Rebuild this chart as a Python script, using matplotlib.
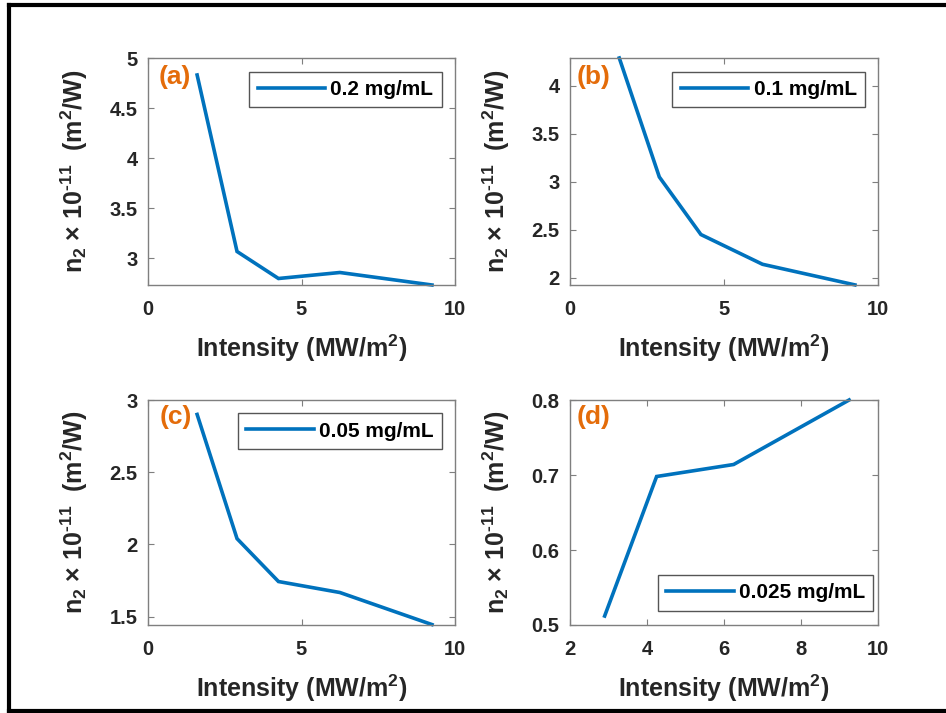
import matplotlib
matplotlib.use("Agg")
import matplotlib.pyplot as plt
from matplotlib.lines import Line2D

plt.rcParams['font.family'] = ['Liberation Sans', 'DejaVu Sans']
plt.rcParams['font.weight'] = 'bold'
plt.rcParams['mathtext.fontset'] = 'custom'
plt.rcParams['mathtext.rm'] = 'Liberation Sans:bold'
plt.rcParams['mathtext.it'] = 'Liberation Sans:bold'
plt.rcParams['mathtext.bf'] = 'Liberation Sans:bold'
plt.rcParams['mathtext.default'] = 'rm'

# ---- data ----
intensity = [1.6, 2.9, 4.25, 6.25, 9.25]
intensity_d = [2.9, 4.25, 6.25, 9.25]
n2_a = [4.83, 3.065, 2.795, 2.855, 2.73]
n2_b = [4.29, 3.05, 2.45, 2.14, 1.925]
n2_c = [2.90, 2.04, 1.743, 1.667, 1.445]
n2_d = [0.512, 0.698, 0.714, 0.80]

labels = ['0.2 mg/mL', '0.1 mg/mL', '0.05 mg/mL', '0.025 mg/mL']
panel_tags = ['(a)', '(b)', '(c)', '(d)']
xticks_abc = [0, 5, 10]
xticks_d = [2, 4, 6, 8, 10]
yticks_a = [3, 3.5, 4, 4.5, 5]
yticks_b = [2, 2.5, 3, 3.5, 4]
yticks_c = [1.5, 2, 2.5, 3]
yticks_d = [0.5, 0.6, 0.7, 0.8]
ytl_a = ['3', '3.5', '4', '4.5', '5']
ytl_b = ['2', '2.5', '3', '3.5', '4']
ytl_c = ['1.5', '2', '2.5', '3']
ytl_d = ['0.5', '0.6', '0.7', '0.8']

W, H = 946, 713
fig = plt.figure(figsize=(W / 100, H / 100), dpi=100)

def px_axes(l, r, t, b):
    return [l / W, 1 - b / H, (r - l) / W, (b - t) / H]

blue = '#0072BD'
orange = '#E46C0A'
grey = '#262626'
edge = '#7f7f7f'

specs = [
    dict(pos=px_axes(148, 455, 58, 285), x=intensity, y=n2_a, xlim=(0, 10), ylim=(2.73, 5),
         xt=xticks_abc, yt=yticks_a, ytl=ytl_a, loc='upper right', anchor=(0.957, 0.940),
         tag=(0.033, 0.916)),
    dict(pos=px_axes(570, 878, 58, 285), x=intensity, y=n2_b, xlim=(0, 10), ylim=(1.924, 4.29),
         xt=xticks_abc, yt=yticks_b, ytl=ytl_b, loc='upper right', anchor=(0.958, 0.940),
         tag=(0.02, 0.916)),
    dict(pos=px_axes(148, 455, 400, 625), x=intensity, y=n2_c, xlim=(0, 10), ylim=(1.442, 3.0),
         xt=xticks_abc, yt=yticks_c, ytl=ytl_c, loc='upper right', anchor=(0.957, 0.941),
         tag=(0.039, 0.926)),
    dict(pos=px_axes(570, 878, 400, 625), x=intensity_d, y=n2_d, xlim=(2, 10), ylim=(0.5, 0.8),
         xt=xticks_d, yt=yticks_d, ytl=ytl_d, loc='lower right', anchor=(0.985, 0.064),
         tag=(0.02, 0.926)),
]

for i, s in enumerate(specs):
    ax = fig.add_axes(s['pos'])
    ax.plot(s['x'], s['y'], color=blue, lw=2.6, label=labels[i], clip_on=False,
            solid_joinstyle='miter')
    ax.set_xlim(*s['xlim'])
    ax.set_ylim(*s['ylim'])
    ax.set_xticks(s['xt'])
    ax.set_xticklabels([str(v) for v in s['xt']])
    ax.set_yticks(s['yt'])
    ax.set_yticklabels(s['ytl'])
    for sp in ax.spines.values():
        sp.set_color(edge)
        sp.set_linewidth(1.0)
    ax.tick_params(direction='in', length=4, width=0.8, color=edge, top=True, right=True,
                   labelsize=14.5, labelcolor=grey)
    ax.tick_params(axis='x', pad=10.5)
    ax.tick_params(axis='y', pad=7.5)
    for t in ax.get_xticklabels() + ax.get_yticklabels():
        t.set_fontweight('bold')
    ax.set_xlabel(r'Intensity (MW/m$^2$)', fontsize=18, fontweight='bold', color=grey, labelpad=10)
    ax.set_ylabel(r'n$_2$ $\times$ 10$^{\text{-11}}$  (m$^2$/W)', fontsize=18, fontweight='bold',
                  color=grey, labelpad=14)
    leg = ax.legend(loc=s['loc'], bbox_to_anchor=s['anchor'], borderaxespad=0,
                    prop=dict(size=15, weight='bold'), handlelength=3.25,
                    handletextpad=0.25, borderpad=0.4, fancybox=False, framealpha=1)
    leg.get_frame().set_edgecolor('#555555')
    leg.get_frame().set_linewidth(1.0)
    for t in leg.get_texts():
        t.set_color('black')
    ax.text(s['tag'][0], s['tag'][1], panel_tags[i], transform=ax.transAxes,
            fontsize=19, fontweight='bold', color=orange, va='center', ha='left')

# outer frame (left, top, bottom)
lw = 3.0
fig.add_artist(Line2D([9 / W, 9 / W], [1 - 5 / H, 1 - 711 / H], color='black', lw=lw,
                      transform=fig.transFigure))
fig.add_artist(Line2D([9 / W, 1], [1 - 5 / H, 1 - 5 / H], color='black', lw=lw,
                      transform=fig.transFigure))
fig.add_artist(Line2D([9 / W, 1], [1 - 711 / H, 1 - 711 / H], color='black', lw=lw,
                      transform=fig.transFigure))

fig.savefig('out.png', dpi=100)
